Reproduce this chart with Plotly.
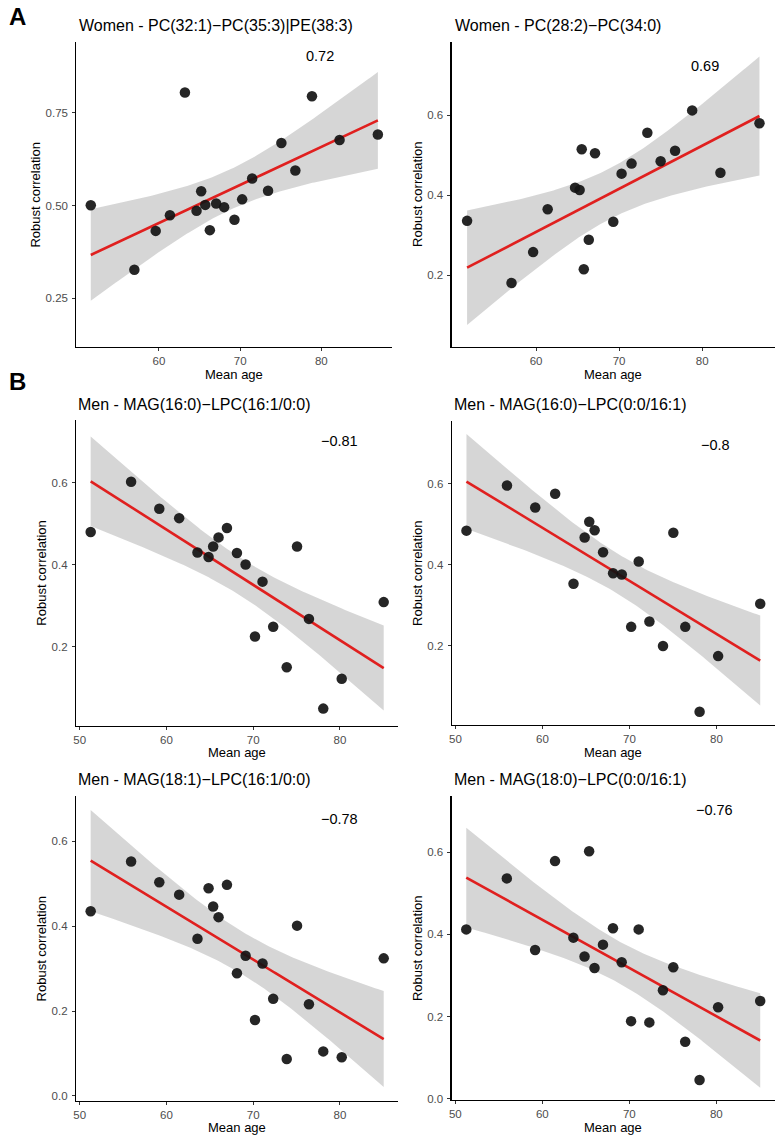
import numpy as np
import plotly.graph_objects as go

W, H = 776, 1142

# ---------------- data ----------------
women_age_1 = [51.6, 56.97, 59.6, 61.35, 63.2, 64.63, 65.2, 65.7, 66.27, 67.05,
               68.03, 69.3, 70.25, 71.48, 73.44, 75.08, 76.8, 78.85, 82.25, 86.97]
women_corr_1 = [0.501, 0.327, 0.432, 0.474, 0.805, 0.486, 0.539, 0.502, 0.434, 0.506,
                0.496, 0.462, 0.517, 0.573, 0.540, 0.669, 0.595, 0.795, 0.677, 0.692]

women_age_2 = [51.7, 57.05, 59.65, 61.4, 64.7, 65.25, 65.5, 65.75, 66.35, 67.1,
               69.3, 70.3, 71.5, 73.4, 75.0, 76.74, 78.8, 82.2, 86.9]
women_corr_2 = [0.336, 0.181, 0.258, 0.365, 0.419, 0.413, 0.515, 0.215, 0.289, 0.505,
                0.334, 0.454, 0.479, 0.556, 0.485, 0.511, 0.612, 0.456, 0.580]

men_age = [51.26, 55.92, 59.17, 61.46, 63.57, 64.85, 65.38, 66.0, 66.97, 68.12,
           69.12, 70.2, 71.07, 72.3, 73.86, 75.05, 76.42, 78.07, 80.2, 85.04]
men_corr_3 = [0.480, 0.603, 0.537, 0.514, 0.430, 0.419, 0.445, 0.467, 0.490, 0.429,
              0.401, 0.225, 0.359, 0.249, 0.150, 0.445, 0.268, 0.049, 0.122, 0.309]
men_corr_4 = [0.484, 0.595, 0.541, 0.575, 0.353, 0.467, 0.506, 0.485, 0.431, 0.379,
              0.376, 0.247, 0.408, 0.260, 0.200, 0.479, 0.247, 0.038, 0.175, 0.304]
men_corr_5 = [0.435, 0.552, 0.503, 0.474, 0.370, 0.489, 0.446, 0.421, 0.497, 0.289,
              0.330, 0.179, 0.312, 0.229, 0.087, 0.401, 0.216, 0.105, 0.091, 0.324]
men_corr_6 = [0.412, 0.536, 0.362, 0.578, 0.392, 0.346, 0.602, 0.318, 0.375, 0.415,
              0.332, 0.189, 0.412, 0.186, 0.264, 0.320, 0.139, 0.046, 0.223, 0.238]

# fitted trend (value at youngest / oldest mean age) and 95% CI half-width there
fit_1 = [0.367, 0.730]
ci_1 = [0.124, 0.130]
fit_2 = [0.219, 0.598]
ci_2 = [0.142, 0.150]
fit_3 = [0.604, 0.148]
ci_3 = [0.107, 0.106]
fit_4 = [0.605, 0.164]
ci_4 = [0.118, 0.110]
fit_5 = [0.554, 0.134]
ci_5 = [0.119, 0.113]
fit_6 = [0.538, 0.142]
ci_6 = [0.123, 0.113]

titles = ["Women - PC(32:1)\u2212PC(35:3)|PE(38:3)",
          "Women - PC(28:2)\u2212PC(34:0)",
          "Men - MAG(16:0)\u2212LPC(16:1/0:0)",
          "Men - MAG(16:0)\u2212LPC(0:0/16:1)",
          "Men - MAG(18:1)\u2212LPC(16:1/0:0)",
          "Men - MAG(18:0)\u2212LPC(0:0/16:1)"]
corr_labels = ["0.72", "0.69", "\u22120.81", "\u22120.8", "\u22120.78", "\u22120.76"]
x_ticks_top = [60, 70, 80]
x_ticks_bottom = [50, 60, 70, 80]
y_ticks_1 = [0.25, 0.50, 0.75]
y_ticks_1_text = ["0.25", "0.50", "0.75"]
y_ticks_mid = [0.2, 0.4, 0.6]
y_ticks_low = [0.0, 0.2, 0.4, 0.6]

series = [
    (women_age_1, women_corr_1, fit_1, ci_1),
    (women_age_2, women_corr_2, fit_2, ci_2),
    (men_age, men_corr_3, fit_3, ci_3),
    (men_age, men_corr_4, fit_4, ci_4),
    (men_age, men_corr_5, fit_5, ci_5),
    (men_age, men_corr_6, fit_6, ci_6),
]

# ---------------- layout (pixel geometry) ----------------
geom = [
    dict(xd=(73.7, 391), yd=(41.7, 348.5), xr=(49.83, 88.77), yr=(0.119, 0.9425),
         xt=x_ticks_top, yt=y_ticks_1, ytt=y_ticks_1_text,
         tpos=(74, 25.5), rpos=(318.3, 56.7), ylx=32.5, xly=376),
    dict(xd=(450.3, 775), yd=(41.7, 348.5), xr=(49.83, 88.77), yr=(0.021, 0.784),
         xt=x_ticks_top, yt=y_ticks_mid, ytt=None,
         tpos=(451.3, 25.5), rpos=(704.7, 66.7), ylx=416.3, xly=376),
    dict(xd=(73.3, 397), yd=(421.7, 729), xr=(49.57, 86.74), yr=(0.007, 0.754),
         xt=x_ticks_bottom, yt=y_ticks_mid, ytt=None,
         tpos=(73.7, 406.7), rpos=(337.7, 442.7), ylx=39, xly=756),
    dict(xd=(450.5, 775), yd=(423.3, 728.3), xr=(49.57, 86.74), yr=(0.005, 0.753),
         xt=x_ticks_bottom, yt=y_ticks_mid, ytt=None,
         tpos=(450.3, 406.7), rpos=(715.7, 447.3), ylx=416.3, xly=756),
    dict(xd=(73.3, 397), yd=(800, 1105.5), xr=(49.57, 86.74), yr=(-0.011, 0.705),
         xt=x_ticks_bottom, yt=y_ticks_low, ytt=None,
         tpos=(73.7, 783.3), rpos=(337.7, 822.7), ylx=39, xly=1132.5),
    dict(xd=(450.3, 775), yd=(800, 1105), xr=(49.57, 86.74), yr=(-0.003, 0.735),
         xt=x_ticks_bottom, yt=y_ticks_low, ytt=None,
         tpos=(450.3, 783.3), rpos=(714.7, 813.3), ylx=416.3, xly=1132.5),
]

FONT = "Liberation Sans, Arial, sans-serif"


def fx(p):
    return p / W


def fy(p):
    return 1 - p / H


fig = go.Figure()
annotations = []

for i, ((xs, ys, fit, ci), g) in enumerate(zip(series, geom)):
    k = "" if i == 0 else str(i + 1)
    xa, ya = "x" + k, "y" + k
    x = np.asarray(xs, float)
    y = np.asarray(ys, float)
    n = len(x)
    x0, x1 = x.min(), x.max()
    xg = np.linspace(x0, x1, 150)
    # straight trend line through the two fitted end values
    yg = fit[0] + (fit[1] - fit[0]) * (xg - x0) / (x1 - x0)
    # linear-model CI shape, scaled to the observed half-widths at the ends
    sxx = np.sum((x - x.mean()) ** 2)
    shape = lambda v: np.sqrt(1.0 / n + (v - x.mean()) ** 2 / sxx)
    kscale = 0.5 * (ci[0] / shape(x0) + ci[1] / shape(x1))
    hw = kscale * shape(xg)
    lo, hi = yg - hw, yg + hw

    fig.add_trace(go.Scatter(x=np.concatenate([xg, xg[::-1]]),
                             y=np.concatenate([hi, lo[::-1]]),
                             fill="toself", fillcolor="rgba(153,153,153,0.4)",
                             line=dict(width=0), mode="lines", hoverinfo="skip",
                             showlegend=False, xaxis=xa, yaxis=ya))
    fig.add_trace(go.Scatter(x=xg, y=yg, mode="lines",
                             line=dict(color="#E0201F", width=2.6),
                             showlegend=False, xaxis=xa, yaxis=ya))
    fig.add_trace(go.Scatter(x=x, y=y, mode="markers",
                             marker=dict(size=10.5, color="rgba(20,20,20,0.92)",
                                         line=dict(width=0)),
                             showlegend=False, xaxis=xa, yaxis=ya))

    axis_common = dict(showline=True, linecolor="black", linewidth=1.1,
                       ticks="outside", ticklen=3, tickwidth=1, tickcolor="#333333",
                       showgrid=False, zeroline=False,
                       tickfont=dict(family=FONT, size=11.5, color="#4D4D4D"))
    fig.update_layout(**{
        "xaxis" + k: dict(domain=[fx(g["xd"][0]), fx(g["xd"][1])], range=list(g["xr"]),
                          anchor=ya, tickvals=g["xt"], **axis_common),
        "yaxis" + k: dict(domain=[fy(g["yd"][1]), fy(g["yd"][0])], range=list(g["yr"]),
                          anchor=xa, tickvals=g["yt"], ticklabelstandoff=2,
                          ticktext=g["ytt"] if g["ytt"] else [f"{v:.1f}" for v in g["yt"]],
                          **axis_common),
    })

    annotations.append(dict(text=titles[i], x=fx(g["tpos"][0]), y=fy(g["tpos"][1]),
                            xref="paper", yref="paper", xanchor="left", yanchor="middle",
                            showarrow=False, font=dict(family=FONT, size=16, color="black")))
    annotations.append(dict(text=corr_labels[i], x=fx(g["rpos"][0]), y=fy(g["rpos"][1]),
                            xref="paper", yref="paper", xanchor="center", yanchor="middle",
                            showarrow=False, font=dict(family=FONT, size=14.5, color="black")))
    annotations.append(dict(text="Robust correlation", x=fx(g["ylx"]),
                            y=fy((g["yd"][0] + g["yd"][1]) / 2),
                            xref="paper", yref="paper", xanchor="center", yanchor="middle",
                            textangle=-90, showarrow=False,
                            font=dict(family=FONT, size=13, color="black")))
    annotations.append(dict(text="Mean age", x=fx((g["xd"][0] + g["xd"][1]) / 2),
                            y=fy(g["xly"]),
                            xref="paper", yref="paper", xanchor="center", yanchor="middle",
                            showarrow=False, font=dict(family=FONT, size=13, color="black")))

annotations.append(dict(text="<b>A</b>", x=fx(14.2), y=fy(16.5), xref="paper", yref="paper",
                        xanchor="center", yanchor="middle", showarrow=False,
                        font=dict(family=FONT, size=24, color="black")))
annotations.append(dict(text="<b>B</b>", x=fx(15), y=fy(383.5), xref="paper", yref="paper",
                        xanchor="center", yanchor="middle", showarrow=False,
                        font=dict(family=FONT, size=24, color="black")))

fig.update_layout(width=W, height=H, autosize=False,
                  margin=dict(l=0, r=0, t=0, b=0),
                  paper_bgcolor="white", plot_bgcolor="white",
                  showlegend=False, annotations=annotations, hovermode=False)

fig.write_html("out.html", config={"displayModeBar": False, "staticPlot": True},
               post_script="document.body.style.margin='0';"
                           "document.body.style.padding='0';"
                           "document.body.style.overflow='hidden';")
